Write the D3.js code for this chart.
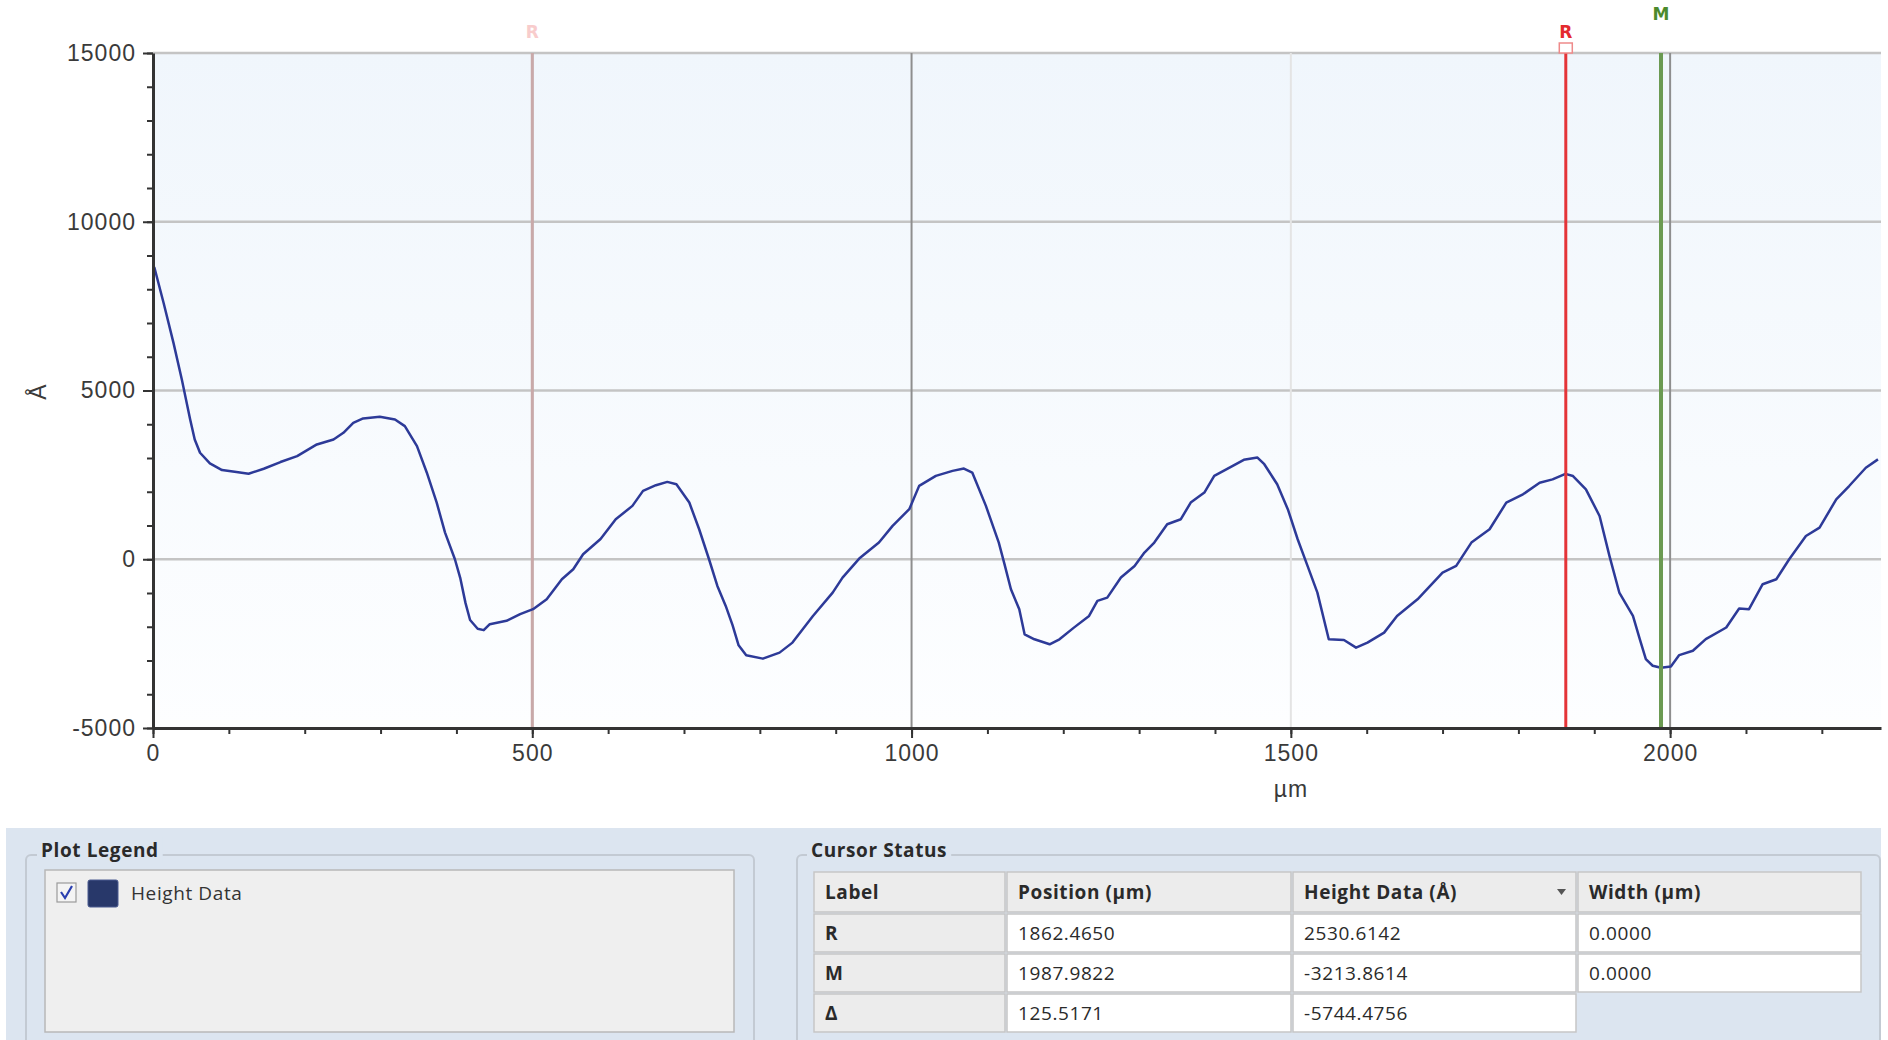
<!DOCTYPE html>
<html><head><meta charset="utf-8">
<script src="https://cdn.jsdelivr.net/npm/d3@7"></script>
<style>
html,body{margin:0;padding:0;background:#fff;}
svg{display:block;}
</style></head>
<body>
<svg id="c" width="1888" height="1040"></svg>
<script>
// ---------- data ----------
const positions = [0,2,14,27,38,49,55,62,75,91,110,126,146,168,190,216,238,251,264,277,299,319,332,348,361,374,385,398,405,412,418,428,436,444,466,484,501,519,539,554,567,590,610,632,646,663,678,690,707,720,733,744,755,764,772,782,804,826,843,870,896,909,931,957,975,997,1010,1032,1054,1069,1080,1098,1115,1122,1131,1142,1149,1162,1182,1195,1214,1234,1245,1258,1276,1294,1307,1320,1337,1355,1368,1386,1399,1421,1438,1456,1465,1482,1496,1509,1522,1535,1550,1570,1586,1601,1623,1640,1667,1700,1718,1738,1762,1784,1806,1828,1845,1862,1872,1889,1907,1920,1933,1951,1960,1968,1977,1988,2001,2012,2030,2047,2074,2091,2104,2122,2140,2157,2179,2197,2219,2236,2258,2274];
const heights = [8700,8630,7594,6410,5325,4142,3550,3156,2840,2643,2584,2534,2682,2880,3057,3402,3550,3747,4043,4172,4221,4142,3945,3353,2564,1677,789,0,-550,-1300,-1800,-2060,-2100,-1923,-1824,-1627,-1479,-1183,-592,-296,148,600,1186,1581,2026,2194,2292,2223,1680,889,0,-790,-1383,-1950,-2550,-2846,-2945,-2767,-2470,-1680,-988,-543,20,494,988,1482,2174,2470,2619,2688,2569,1581,494,-99,-889,-1482,-2223,-2372,-2520,-2372,-2026,-1680,-1235,-1136,-543,-198,198,494,1038,1186,1680,1976,2470,2737,2945,3014,2816,2223,1482,593,-198,-988,-2372,-2391,-2619,-2470,-2174,-1680,-1186,-394,-197,493,888,1677,1923,2268,2367,2531,2465,2071,1282,99,-986,-1677,-2367,-2959,-3156,-3214,-3176,-2840,-2712,-2367,-2022,-1460,-1479,-740,-592,0,690,937,1775,2170,2712,2959];

const xTickValues = [0, 500, 1000, 1500, 2000];
const yTickValues = [-5000, 0, 5000, 10000, 15000];
const xDomain = [0, 2278];
const yDomain = [-5000, 15000];
const xTitle = "µm";
const yTitle = "Å";

const cursorLabels = ["R", "M"];
const cursorPositions = [1862.4650, 1987.9822];
const ghostCursorLabel = "R";
const ghostCursorPosition = 500;

const legendLabels = ["Height Data"];
const tableHeaders = ["Label", "Position (µm)", "Height Data (Å)", "Width (µm)"];
const tableLabels = ["R", "M", "Δ"];
const tablePositions = ["1862.4650", "1987.9822", "125.5171"];
const tableHeights = ["2530.6142", "-3213.8614", "-5744.4756"];
const tableWidths = ["0.0000", "0.0000", null];

// ---------- drawing ----------
const svg = d3.select("#c");
const L = 153, T = 53, R = 1881, B = 728;
const x = d3.scaleLinear().domain(xDomain).range([L, R]);
const y = d3.scaleLinear().domain(yDomain).range([B, T]);
const tickFont = "'Liberation Sans', Arial, sans-serif";
const uiFont = "'Open Sans', 'Noto Sans', sans-serif";
const plainNum = d => String(d);

const defs = svg.append("defs");
const grad = defs.append("linearGradient").attr("id","bg").attr("x1",0).attr("y1",0).attr("x2",0).attr("y2",1);
grad.append("stop").attr("offset","0%").attr("stop-color","#f0f6fc");
grad.append("stop").attr("offset","100%").attr("stop-color","#fdfeff");

svg.append("rect").attr("x",L).attr("y",T).attr("width",R-L).attr("height",B-T).attr("fill","url(#bg)");

// horizontal gridlines
svg.append("g").selectAll("line").data(yTickValues.filter(v => v > yDomain[0]))
  .join("line")
  .attr("x1", L).attr("x2", R).attr("y1", d => y(d)).attr("y2", d => y(d))
  .attr("stroke", "#c4c4c4").attr("stroke-width", 2.5);

// vertical gridlines
svg.append("g").selectAll("line").data(xTickValues.filter(v => v > xDomain[0]))
  .join("line")
  .attr("x1", d => x(d)).attr("x2", d => x(d)).attr("y1", T).attr("y2", B)
  .attr("stroke", d => d === 1500 ? "#e4e4e4" : "#8e8e8e").attr("stroke-width", 2);

// ghost cursor
svg.append("line").attr("x1", x(ghostCursorPosition)).attr("x2", x(ghostCursorPosition))
  .attr("y1", T).attr("y2", B).attr("stroke", "#c9a9a9").attr("stroke-width", 3);
svg.append("text").attr("x", x(ghostCursorPosition)).attr("y", 38).attr("text-anchor","middle")
  .attr("font-family","'DejaVu Sans', sans-serif").attr("font-weight","bold").attr("font-size",17).attr("fill","#f8cccc")
  .text(ghostCursorLabel);

// data line
const pts = positions.map((p, i) => [p, heights[i]]);
svg.append("path").datum(pts)
  .attr("d", d3.line().x(d => x(d[0])).y(d => y(d[1])))
  .attr("fill","none").attr("stroke","#2d3a98").attr("stroke-width",2.5).attr("stroke-linejoin","round");

// cursors
const cursorColor = ["#e43438", "#6b9a52"];
const cursorWidth = [3, 4];
const labelColor = ["#e42a2e", "#4c8a2c"];
const labelY = [38, 20];
cursorLabels.forEach((lab, i) => {
  const cx = x(cursorPositions[i]);
  svg.append("line").attr("x1", cx).attr("x2", cx).attr("y1", T).attr("y2", B)
    .attr("stroke", cursorColor[i]).attr("stroke-width", cursorWidth[i]);
  svg.append("text").attr("x", cx).attr("y", labelY[i]).attr("text-anchor","middle")
    .attr("font-family","'DejaVu Sans', sans-serif").attr("font-weight","bold").attr("font-size",17)
    .attr("fill", labelColor[i]).text(lab);
  if (i === 0) {
    svg.append("rect").attr("x", cx - 6.5).attr("y", 43).attr("width", 13).attr("height", 10)
      .attr("fill","#fff").attr("stroke","#ee8a8a").attr("stroke-width",1.5);
  }
});

// axes
function styleAxis(g) {
  g.select(".domain").attr("stroke","#333").attr("stroke-width",3);
  g.selectAll(".tick line").attr("stroke","#333").attr("stroke-width",2);
  g.selectAll(".tick text").attr("fill","#3a3a3a").attr("font-family",tickFont)
    .attr("font-size",23).attr("letter-spacing","1px");
}
const yMinor = d3.range(yDomain[0], yDomain[1] + 1, 1000);
const xMinor = d3.range(0, xDomain[1], 100);
svg.append("g").attr("transform",`translate(${L},0)`)
  .call(d3.axisLeft(y).tickValues(yMinor).tickSize(6).tickFormat("").tickSizeOuter(0))
  .call(g => { g.select(".domain").remove(); g.selectAll(".tick line").attr("stroke","#333").attr("stroke-width",2); });
svg.append("g").attr("transform",`translate(0,${B})`)
  .call(d3.axisBottom(x).tickValues(xMinor).tickSize(6).tickFormat("").tickSizeOuter(0))
  .call(g => { g.select(".domain").remove(); g.selectAll(".tick line").attr("stroke","#333").attr("stroke-width",2); });

svg.append("g").attr("transform",`translate(${L},0)`)
  .call(d3.axisLeft(y).tickValues(yTickValues).tickSize(10).tickPadding(7).tickSizeOuter(0).tickFormat(plainNum))
  .call(styleAxis);
svg.append("g").attr("transform",`translate(0,${B})`)
  .call(d3.axisBottom(x).tickValues(xTickValues).tickSize(10).tickPadding(7).tickSizeOuter(0).tickFormat(plainNum))
  .call(styleAxis);

svg.append("text").attr("transform","translate(46,392) rotate(-90)").attr("text-anchor","middle")
  .attr("font-family",tickFont).attr("font-size",23).attr("fill","#3a3a3a").text(yTitle);
svg.append("text").attr("x", x(1500)).attr("y", 797).attr("text-anchor","middle")
  .attr("font-family",tickFont).attr("font-size",23).attr("fill","#3a3a3a").attr("letter-spacing","1px").text(xTitle);

// ---------- bottom panel ----------
const panelBg = "#dce5f0";
svg.append("rect").attr("x",6).attr("y",828).attr("width",1875).attr("height",212).attr("fill",panelBg);

function groupBox(x0, y0, w, title, tx) {
  svg.append("rect").attr("x",x0).attr("y",y0).attr("width",w).attr("height",220).attr("rx",5)
    .attr("fill","none").attr("stroke","#c3cad3").attr("stroke-width",2);
  const t = svg.append("text").attr("x",tx).attr("y",857).attr("font-family",uiFont)
    .attr("font-weight","bold").attr("font-size",19).attr("letter-spacing","0.6px").attr("fill","#2a2a2a").text(title);
  const bb = t.node().getBBox();
  svg.insert("rect", () => t.node()).attr("x",bb.x-4).attr("y",bb.y).attr("width",bb.width+8).attr("height",bb.height).attr("fill",panelBg);
}
groupBox(26, 855, 728, "Plot Legend", 41);
groupBox(797, 855, 1083, "Cursor Status", 811);

// legend box
svg.append("rect").attr("x",45).attr("y",870).attr("width",689).attr("height",162)
  .attr("fill","#efefef").attr("stroke","#b8b8b8").attr("stroke-width",1.5);
legendLabels.forEach((lab, i) => {
  const yy = 880 + i * 32;
  svg.append("rect").attr("x",57).attr("y",yy+3).attr("width",19).attr("height",19)
    .attr("fill","#f4f4f4").attr("stroke","#9a9a9a").attr("stroke-width",1.2);
  svg.append("path").attr("d",`M61,${yy+12} L65,${yy+18} L72,${yy+6}`)
    .attr("fill","none").attr("stroke","#2a3fb0").attr("stroke-width",2.2);
  svg.append("rect").attr("x",88).attr("y",yy).attr("width",30).attr("height",27).attr("rx",2)
    .attr("fill","#28386a").attr("stroke","#4a5a90").attr("stroke-width",1);
  svg.append("text").attr("x",131).attr("y",yy+20).attr("font-family",uiFont).attr("font-size",19)
    .attr("letter-spacing","0.6px").attr("fill","#333").text(lab);
});

// table
const colX = [814, 1007, 1293, 1578, 1863];
const rowY = [[872,912],[914,952],[954,992],[994,1032]];
const rows = [tableHeaders].concat(tableLabels.map((l, i) => [l, tablePositions[i], tableHeights[i], tableWidths[i]]));
rows.forEach((row, r) => {
  row.forEach((cell, c) => {
    if (cell === null) return;
    const header = r === 0 || c === 0;
    svg.append("rect").attr("x",colX[c]).attr("y",rowY[r][0]).attr("width",colX[c+1]-colX[c]-2)
      .attr("height",rowY[r][1]-rowY[r][0])
      .attr("fill", header ? "#ececec" : "#ffffff").attr("stroke","#c6c6c6").attr("stroke-width",1.5);
    svg.append("text").attr("x",colX[c]+11).attr("y",(rowY[r][0]+rowY[r][1])/2+7)
      .attr("font-family",uiFont).attr("font-size",19).attr("letter-spacing","0.6px")
      .attr("font-weight", header ? "bold" : "normal").attr("fill","#2a2a2a").text(cell);
  });
});
// sort arrow in header
svg.append("path").attr("d","M1557,889 L1566,889 L1561.5,895 Z").attr("fill","#555");
</script>
</body></html>
